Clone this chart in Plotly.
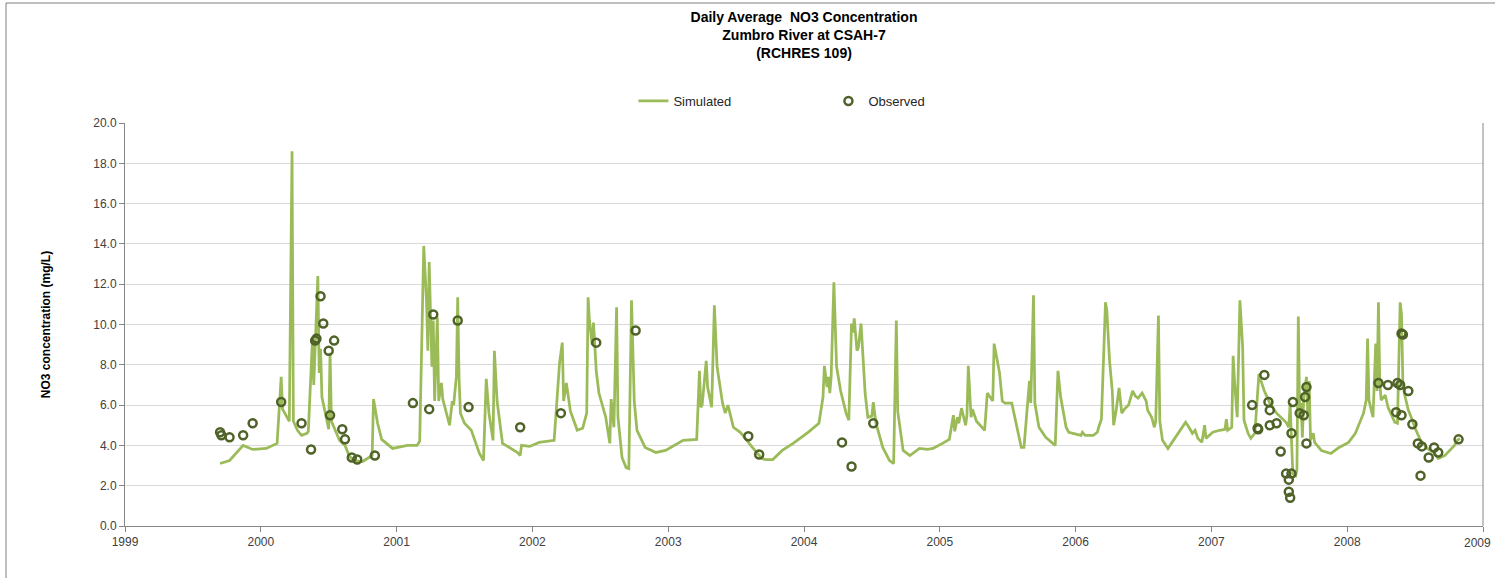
import plotly.graph_objects as go

# Simulated daily NO3 (decimal year, mg/L) - vertices
sim_year = [
    1999.70, 1999.77, 1999.87, 1999.94, 2000.04, 2000.12, 2000.15, 2000.16, 2000.21, 2000.23,
    2000.24, 2000.27, 2000.30, 2000.34, 2000.35, 2000.37, 2000.38, 2000.39, 2000.42, 2000.43,
    2000.44, 2000.45, 2000.49, 2000.50, 2000.51, 2000.52, 2000.58, 2000.62, 2000.65, 2000.68,
    2000.75, 2000.82, 2000.83, 2000.86, 2000.89, 2000.97,
    2001.08, 2001.15, 2001.17, 2001.19, 2001.20, 2001.22, 2001.23, 2001.24, 2001.25, 2001.26,
    2001.27, 2001.28, 2001.30, 2001.31, 2001.33, 2001.34, 2001.39, 2001.41, 2001.42, 2001.44,
    2001.45, 2001.46, 2001.47, 2001.50, 2001.55, 2001.61, 2001.64, 2001.66, 2001.68, 2001.71,
    2001.72, 2001.74, 2001.78, 2001.83, 2001.89, 2001.91, 2001.92, 2001.98,
    2002.05, 2002.16, 2002.18, 2002.20, 2002.22, 2002.23, 2002.25, 2002.28, 2002.33, 2002.37,
    2002.40, 2002.41, 2002.42, 2002.44, 2002.45, 2002.47, 2002.49, 2002.54, 2002.57, 2002.58,
    2002.60, 2002.62, 2002.63, 2002.66, 2002.69, 2002.71, 2002.73, 2002.75, 2002.77, 2002.83,
    2002.91, 2002.98,
    2003.11, 2003.21, 2003.23, 2003.24, 2003.25, 2003.28, 2003.29, 2003.32, 2003.34, 2003.36,
    2003.40, 2003.42, 2003.44, 2003.48, 2003.53, 2003.55, 2003.62, 2003.69, 2003.72, 2003.77,
    2003.84, 2003.92,
    2004.03, 2004.11, 2004.14, 2004.15, 2004.17, 2004.18, 2004.19, 2004.20, 2004.22, 2004.23,
    2004.24, 2004.27, 2004.31, 2004.33, 2004.35, 2004.36, 2004.37, 2004.39, 2004.40, 2004.42,
    2004.44, 2004.45, 2004.47, 2004.50, 2004.51, 2004.53, 2004.58, 2004.63, 2004.66, 2004.68,
    2004.69, 2004.73, 2004.78, 2004.85, 2004.91, 2004.95,
    2005.02, 2005.07, 2005.10, 2005.11, 2005.13, 2005.14, 2005.16, 2005.19, 2005.20, 2005.21,
    2005.23, 2005.24, 2005.27, 2005.33, 2005.35, 2005.38, 2005.39, 2005.40, 2005.41, 2005.44,
    2005.46, 2005.48, 2005.53, 2005.56, 2005.60, 2005.62, 2005.64, 2005.66, 2005.67, 2005.69,
    2005.70, 2005.73, 2005.78, 2005.83, 2005.85, 2005.87, 2005.89, 2005.93, 2005.95, 2005.98,
    2006.04, 2006.05, 2006.07, 2006.13, 2006.16, 2006.17, 2006.19, 2006.20, 2006.22, 2006.23,
    2006.25, 2006.27, 2006.28, 2006.30, 2006.32, 2006.34, 2006.36, 2006.39, 2006.42, 2006.44,
    2006.46, 2006.49, 2006.52, 2006.53, 2006.56, 2006.58, 2006.59, 2006.61, 2006.62, 2006.64,
    2006.68, 2006.72, 2006.77, 2006.81, 2006.83, 2006.86, 2006.88, 2006.90, 2006.93, 2006.95,
    2006.96,
    2007.01, 2007.06, 2007.10, 2007.11, 2007.12, 2007.15, 2007.16, 2007.17, 2007.19, 2007.21,
    2007.23, 2007.24, 2007.27, 2007.29, 2007.32, 2007.35, 2007.36, 2007.39, 2007.43, 2007.48,
    2007.51, 2007.55, 2007.57, 2007.58, 2007.59, 2007.60, 2007.62, 2007.63, 2007.64, 2007.65,
    2007.66, 2007.67, 2007.68, 2007.70, 2007.71, 2007.72, 2007.73, 2007.75, 2007.76, 2007.81,
    2007.88, 2007.94,
    2008.01, 2008.06, 2008.09, 2008.12, 2008.14, 2008.15, 2008.16, 2008.18, 2008.19, 2008.21,
    2008.22, 2008.23, 2008.24, 2008.25, 2008.28, 2008.30, 2008.33, 2008.35, 2008.37, 2008.39,
    2008.40, 2008.41, 2008.42, 2008.45, 2008.48, 2008.50, 2008.54, 2008.59, 2008.64, 2008.67,
    2008.72, 2008.77, 2008.79, 2008.81, 2008.83,
]
sim_no3 = [
    3.10, 3.25, 4.00, 3.80, 3.85, 4.10, 7.40, 5.80, 5.20, 18.60,
    5.20, 4.75, 4.50, 4.60, 4.70, 8.10, 9.20, 7.00, 12.40, 7.60,
    8.80, 6.40, 5.10, 4.80, 8.60, 5.20, 4.25, 4.00, 3.50, 3.25,
    3.20, 3.50, 6.30, 5.10, 4.30, 3.85,
    4.00, 4.00, 4.20, 11.00, 13.90, 11.20, 8.70, 13.10, 9.90, 7.90,
    10.20, 6.20, 10.35, 6.20, 7.10, 6.30, 5.00, 6.20, 6.00, 7.40,
    11.35, 7.30, 5.60, 5.10, 4.75, 3.60, 3.25, 7.30, 5.60, 4.25,
    8.70, 6.20, 4.10, 3.90, 3.65, 3.50, 4.00, 3.95,
    4.15, 4.25, 6.20, 8.10, 9.10, 6.20, 7.10, 5.70, 4.75, 4.85,
    5.60, 11.35, 10.20, 9.00, 10.10, 7.70, 6.60, 5.40, 4.10, 6.30,
    4.90, 10.85, 5.40, 3.40, 2.90, 2.85, 11.20, 6.20, 4.75, 3.90,
    3.65, 3.75,
    4.25, 4.30, 7.70, 5.90, 6.00, 8.20, 6.90, 5.90, 10.95, 7.90,
    6.10, 5.60, 6.00, 4.90, 4.65, 4.50, 3.90, 3.35, 3.30, 3.30,
    3.75, 4.10,
    4.65, 5.10, 6.40, 7.95, 6.90, 7.40, 6.60, 7.40, 12.10, 9.55,
    7.90, 6.70, 5.60, 5.25, 10.05, 9.60, 10.30, 8.70, 8.85, 10.05,
    7.90, 6.60, 5.40, 5.45, 6.15, 5.10, 3.90, 3.25, 3.10, 10.20,
    5.70, 3.75, 3.50, 3.85, 3.80, 3.85,
    4.10, 4.30, 5.50, 4.70, 5.40, 5.10, 5.85, 5.00, 5.50, 7.95,
    5.40, 5.80, 5.20, 4.75, 6.60, 6.30, 6.20, 9.05, 8.70, 7.60,
    6.20, 6.10, 6.10, 5.10, 3.90, 3.90, 5.40, 7.20, 6.10, 11.45,
    6.10, 4.90, 4.40, 4.10, 4.00, 7.70, 6.40, 4.90, 4.65, 4.60,
    4.50, 4.65, 4.50, 4.50, 4.65, 4.90, 5.30, 7.20, 11.10, 10.70,
    8.20, 6.70, 5.00, 5.80, 6.85, 5.60, 5.80, 6.00, 6.70, 6.45,
    6.35, 6.60, 6.20, 5.75, 5.40, 4.90, 5.20, 10.45, 5.20, 4.25,
    3.85, 4.25, 4.75, 5.15, 4.95, 4.60, 4.75, 4.35, 4.15, 5.00,
    4.35,
    4.65, 4.75, 4.80, 5.30, 4.75, 4.90, 8.45, 7.20, 5.40, 11.20,
    8.90, 5.25, 4.60, 4.35, 4.60, 7.55, 7.30, 6.70, 6.10, 5.60,
    5.40, 5.15, 4.90, 6.10, 4.20, 2.60, 2.50, 2.80, 10.40, 5.50,
    6.10, 4.40, 6.40, 7.40, 5.50, 7.20, 4.25, 4.60, 4.15, 3.75,
    3.60, 3.90,
    4.15, 4.60, 5.10, 5.60, 6.25, 9.30, 6.25, 5.60, 5.40, 9.05,
    6.70, 11.10, 7.10, 6.25, 6.50, 5.90, 5.50, 5.15, 5.10, 11.10,
    10.50, 7.10, 6.60, 5.75, 5.25, 4.85, 4.25, 3.85, 3.65, 3.35,
    3.50, 3.85, 4.00, 4.25, 4.35,
]

# Observed grab samples
obs_year = [
    1999.70, 1999.71, 1999.77, 1999.87, 1999.94, 2000.15, 2000.30, 2000.37, 2000.40, 2000.41,
    2000.44, 2000.46, 2000.50, 2000.54, 2000.51, 2000.60, 2000.62, 2000.67, 2000.71, 2000.84,
    2001.12, 2001.24, 2001.27, 2001.45, 2001.53, 2001.91, 2002.21, 2002.47, 2002.76,
    2003.59, 2003.67, 2004.28, 2004.35, 2004.51,
    2007.30, 2007.34, 2007.345, 2007.39, 2007.42, 2007.43, 2007.43, 2007.48, 2007.51, 2007.55,
    2007.59, 2007.57, 2007.57, 2007.58, 2007.59, 2007.60, 2007.65, 2007.68, 2007.69, 2007.70,
    2007.70,
    2008.23, 2008.30, 2008.37, 2008.39, 2008.40, 2008.41, 2008.45, 2008.36, 2008.40, 2008.48,
    2008.52, 2008.55, 2008.60, 2008.54, 2008.64, 2008.67, 2008.82,
]
obs_no3 = [
    4.65, 4.50, 4.40, 4.50, 5.10, 6.15, 5.10, 3.80, 9.20, 9.30,
    11.40, 10.05, 8.70, 9.20, 5.50, 4.80, 4.30, 3.40, 3.30, 3.50,
    6.10, 5.80, 10.50, 10.20, 5.90, 4.90, 5.60, 9.10, 9.70,
    4.45, 3.55, 4.15, 2.95, 5.10,
    6.00, 4.85, 4.80, 7.50, 6.15, 5.75, 5.00, 5.10, 3.70, 2.60,
    2.60, 2.30, 1.70, 1.40, 4.60, 6.15, 5.60, 5.50, 6.40, 6.90,
    4.10,
    7.10, 7.00, 7.10, 7.00, 9.55, 9.50, 6.70, 5.65, 5.50, 5.05,
    4.10, 3.95, 3.40, 2.50, 3.90, 3.65, 4.30,
]

x_ticks = [1999, 2000, 2001, 2002, 2003, 2004, 2005, 2006, 2007, 2008, 2009]
y_ticks = [0, 2, 4, 6, 8, 10, 12, 14, 16, 18, 20]

FONT = "Liberation Sans Narrow, Arial Narrow, Liberation Sans, Arial, sans-serif"

W, H = 1495, 578
ML, MR, MT, MB = 125, 12, 123, 52
PW, PH = W - ML - MR, H - MT - MB

fig = go.Figure()
fig.add_trace(go.Scatter(
    x=sim_year, y=sim_no3, mode="lines", name="Simulated",
    line=dict(color="#9bbb59", width=2.75),
))
fig.add_trace(go.Scatter(
    x=obs_year, y=obs_no3, mode="markers", name="Observed",
    marker=dict(symbol="circle-open", size=8, color="#4f6228",
                line=dict(width=2.5, color="#4f6228")),
))

# last tick label drawn as an annotation so it stays inside the page edge
tick_text = [str(v) for v in x_ticks[:-1]] + [""]

fig.update_layout(
    width=W, height=H, autosize=False,
    paper_bgcolor="white", plot_bgcolor="white",
    margin=dict(l=ML, r=MR, t=MT, b=MB),
    font=dict(family=FONT, size=12, color="#262626"),
    title=dict(
        text="<b>Daily Average  NO3 Concentration<br>Zumbro River at CSAH-7<br>(RCHRES 109)</b>",
        x=0.5, xref="paper", y=1 - 22 / H, yref="container", yanchor="top",
        font=dict(family=FONT, size=14, color="#000000"),
    ),
    legend=dict(
        orientation="h", x=0.518, xanchor="center", y=(MT + PH - 101) / PH, yanchor="middle",
        font=dict(family=FONT, size=13, color="#262626"),
        entrywidth=150, itemwidth=30,
    ),
    xaxis=dict(
        range=[1999, 2009], tickvals=x_ticks, ticktext=tick_text,
        showgrid=False, zeroline=False,
        showline=True, linecolor="#868686", linewidth=1,
        ticks="outside", ticklen=5, tickcolor="#868686",
        tickfont=dict(family=FONT, size=12, color="#404040"),
    ),
    yaxis=dict(
        range=[0, 20], tickvals=y_ticks, ticktext=[f"{v:.1f}" for v in y_ticks],
        showgrid=True, gridcolor="#d9d9d9", gridwidth=1, zeroline=False,
        showline=True, linecolor="#868686", linewidth=1,
        ticks="outside", ticklen=5, tickcolor="#868686",
        tickfont=dict(family=FONT, size=12, color="#404040"),
        title=dict(text="<b>NO3 concentration (mg/L)</b>", standoff=40,
                   font=dict(family=FONT, size=12, color="#000000")),
    ),
)

fig.add_annotation(
    x=(W - ML - 2) / PW, xref="paper", y=0, yref="paper", yshift=-8,
    text=str(x_ticks[-1]), showarrow=False, xanchor="right", yanchor="top",
    font=dict(family=FONT, size=12, color="#404040"),
)

# chart-area border (top and left edges visible in the reference)
bx = (6 - ML) / PW
by = (MT + PH - 3) / PH
fig.add_shape(type="line", xref="paper", yref="paper",
              x0=bx, x1=(W - ML) / PW, y0=by, y1=by,
              line=dict(color="#7f7f7f", width=1))
fig.add_shape(type="line", xref="paper", yref="paper",
              x0=bx, x1=bx, y0=-MB / PH, y1=by,
              line=dict(color="#7f7f7f", width=1))
fig.add_shape(type="line", xref="paper", yref="paper",
              x0=1.0, x1=1.0, y0=0, y1=1,
              line=dict(color="#868686", width=1))

fig.write_html("out.html", config={"displayModeBar": False},
               post_script="document.body.style.margin='0';")
